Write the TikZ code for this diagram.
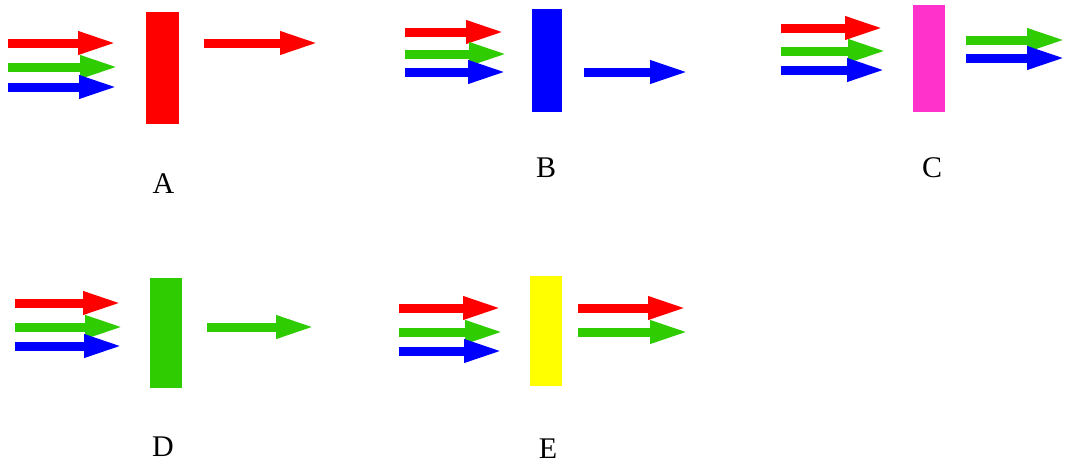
\documentclass[tikz,border=0pt]{standalone}
\usepackage{fontspec}
\setmainfont{Liberation Serif}
\usetikzlibrary{arrows.meta}
\definecolor{cred}{RGB}{255,0,0}
\definecolor{cgreen}{RGB}{46,204,0}
\definecolor{cblue}{RGB}{0,0,255}
\definecolor{cmag}{RGB}{255,51,204}
\definecolor{cyel}{RGB}{255,255,0}
\tikzset{
  ray/.style={line width=9pt, shorten >=-4pt, -{Triangle[length=39pt,width=21pt]}},
  filterbox/.style={draw=none, inner sep=0pt, minimum width=32pt},
  lbl/.style={font=\fontsize{30}{30}\selectfont, inner sep=0pt}
}
\begin{document}
\begin{tikzpicture}[x=1pt,y=-1pt]
\useasboundingbox (0,0) rectangle (1066,464);
% ---- A ----
\node[filterbox, fill=cred, minimum width=33pt, minimum height=112pt] (fA) at (162.5,68) {};
\coordinate (aR0) at (8,43);  \coordinate (aR1) at (113,43);
\coordinate (aG0) at (8,67);  \coordinate (aG1) at (115,67);
\coordinate (aB0) at (8,87);  \coordinate (aB1) at (114,87);
\coordinate (aO0) at (204,43); \coordinate (aO1) at (315,43);
\draw[ray, cred] (aR0) -- (aR1);
\draw[ray, cgreen] (aG0) -- (aG1);
\draw[ray, cblue] (aB0) -- (aB1);
\draw[ray, cred] (aO0) -- (aO1);
\node[lbl] (lA) at (163.5,184) {A};
% ---- B ----
\node[filterbox, fill=cblue, minimum width=30pt, minimum height=103pt] (fB) at (547,60.5) {};
\coordinate (bR0) at (405,32);  \coordinate (bR1) at (501,32);
\coordinate (bG0) at (405,54);  \coordinate (bG1) at (504,54);
\coordinate (bB0) at (405,72);  \coordinate (bB1) at (503,72);
\coordinate (bO0) at (584,72); \coordinate (bO1) at (685,72);
\draw[ray, cred] (bR0) -- (bR1);
\draw[ray, cgreen] (bG0) -- (bG1);
\draw[ray, cblue] (bB0) -- (bB1);
\draw[ray, cblue] (bO0) -- (bO1);
\node[lbl] (lB) at (546,168) {B};
% ---- C ----
\node[filterbox, fill=cmag, minimum width=32pt, minimum height=107pt] (fC) at (929,58.5) {};
\coordinate (cR0) at (781,28);  \coordinate (cR1) at (880,28);
\coordinate (cG0) at (781,51);  \coordinate (cG1) at (883,51);
\coordinate (cB0) at (781,70);  \coordinate (cB1) at (882,70);
\coordinate (cO10) at (966,40); \coordinate (cO11) at (1062,40);
\coordinate (cO20) at (966,58); \coordinate (cO21) at (1062,58);
\draw[ray, cred] (cR0) -- (cR1);
\draw[ray, cgreen] (cG0) -- (cG1);
\draw[ray, cblue] (cB0) -- (cB1);
\draw[ray, cgreen] (cO10) -- (cO11);
\draw[ray, cblue] (cO20) -- (cO21);
\node[lbl] (lC) at (932,168) {C};
% ---- D ----
\node[filterbox, fill=cgreen, minimum width=32pt, minimum height=110pt] (fD) at (166,333) {};
\coordinate (dR0) at (15,303);  \coordinate (dR1) at (118,303);
\coordinate (dG0) at (15,327);  \coordinate (dG1) at (120,327);
\coordinate (dB0) at (15,346);  \coordinate (dB1) at (119,346);
\coordinate (dO0) at (207,327); \coordinate (dO1) at (311,327);
\draw[ray, cred] (dR0) -- (dR1);
\draw[ray, cgreen] (dG0) -- (dG1);
\draw[ray, cblue] (dB0) -- (dB1);
\draw[ray, cgreen] (dO0) -- (dO1);
\node[lbl] (lD) at (163,447) {D};
% ---- E ----
\node[filterbox, fill=cyel, minimum width=32pt, minimum height=110pt] (fE) at (546,331) {};
\coordinate (eR0) at (399,308);  \coordinate (eR1) at (498,308);
\coordinate (eG0) at (399,332);  \coordinate (eG1) at (500,332);
\coordinate (eB0) at (399,351);  \coordinate (eB1) at (499,351);
\coordinate (eO10) at (578,308); \coordinate (eO11) at (683,308);
\coordinate (eO20) at (578,332); \coordinate (eO21) at (685,332);
\draw[ray, cred] (eR0) -- (eR1);
\draw[ray, cgreen] (eG0) -- (eG1);
\draw[ray, cblue] (eB0) -- (eB1);
\draw[ray, cred] (eO10) -- (eO11);
\draw[ray, cgreen] (eO20) -- (eO21);
\node[lbl] (lE) at (548,448.5) {E};
\end{tikzpicture}
\end{document}
